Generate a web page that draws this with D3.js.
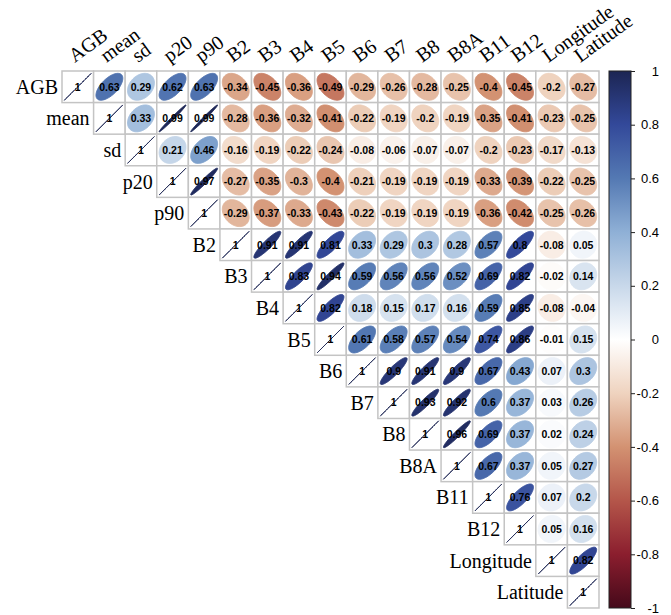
<!DOCTYPE html>
<html>
<head>
<meta charset="utf-8">
<script src="https://cdn.jsdelivr.net/npm/d3@7"></script>
<style>
body { margin: 0; background: #fff; }
</style>
</head>
<body>
<script>
var vars = ["AGB", "mean", "sd", "p20", "p90", "B2", "B3", "B4", "B5", "B6", "B7", "B8", "B8A", "B11", "B12", "Longitude", "Latitude"];

// upper triangle: each row lists the values right of the diagonal
var rowAGB = [0.63, 0.29, 0.62, 0.63, -0.34, -0.45, -0.36, -0.49, -0.29, -0.26, -0.28, -0.25, -0.4, -0.45, -0.2, -0.27];
var rowMean = [0.33, 0.99, 0.99, -0.28, -0.36, -0.32, -0.41, -0.22, -0.19, -0.2, -0.19, -0.35, -0.41, -0.23, -0.25];
var rowSd = [0.21, 0.46, -0.16, -0.19, -0.22, -0.24, -0.08, -0.06, -0.07, -0.07, -0.2, -0.23, -0.17, -0.13];
var rowP20 = [0.97, -0.27, -0.35, -0.3, -0.4, -0.21, -0.19, -0.19, -0.19, -0.33, -0.39, -0.22, -0.25];
var rowP90 = [-0.29, -0.37, -0.33, -0.43, -0.22, -0.19, -0.19, -0.19, -0.36, -0.42, -0.25, -0.26];
var rowB2 = [0.91, 0.91, 0.81, 0.33, 0.29, 0.3, 0.28, 0.57, 0.8, -0.08, 0.05];
var rowB3 = [0.83, 0.94, 0.59, 0.56, 0.56, 0.52, 0.69, 0.82, -0.02, 0.14];
var rowB4 = [0.82, 0.18, 0.15, 0.17, 0.16, 0.59, 0.85, -0.08, -0.04];
var rowB5 = [0.61, 0.58, 0.57, 0.54, 0.74, 0.86, -0.01, 0.15];
var rowB6 = [0.9, 0.91, 0.9, 0.67, 0.43, 0.07, 0.3];
var rowB7 = [0.93, 0.92, 0.6, 0.37, 0.03, 0.26];
var rowB8 = [0.96, 0.69, 0.37, 0.02, 0.24];
var rowB8A = [0.67, 0.37, 0.05, 0.27];
var rowB11 = [0.76, 0.07, 0.2];
var rowB12 = [0.05, 0.16];
var rowLongitude = [0.82];
var rowLatitude = [];

var upper = [rowAGB, rowMean, rowSd, rowP20, rowP90, rowB2, rowB3, rowB4, rowB5, rowB6, rowB7, rowB8, rowB8A, rowB11, rowB12, rowLongitude, rowLatitude];

var legendTicks = [1, 0.8, 0.6, 0.4, 0.2, 0, -0.2, -0.4, -0.6, -0.8, -1];
var paletteValues = [-1, -0.8, -0.6, -0.4, -0.2, 0, 0.2, 0.4, 0.6, 0.8, 1];
var paletteColors = ["#45091a", "#8b1e2e", "#b4564a", "#d39272", "#efd3bf", "#ffffff", "#c8d8ea", "#8fb0d6", "#5479b3", "#33499a", "#1c2553"];

var svgWidth = 671;
var svgHeight = 615;
var gridLeft = 62, gridTop = 71, gridSize = 537;
var serif = "'Liberation Serif', 'Times New Roman', serif";
var sans = "'Liberation Sans', Arial, sans-serif";

var svg = d3.select("body").append("svg")
    .attr("width", svgWidth)
    .attr("height", svgHeight);

var x = d3.scaleBand().domain(vars).range([gridLeft, gridLeft + gridSize]);
var y = d3.scaleBand().domain(vars).range([gridTop, gridTop + gridSize]);
var color = d3.scaleLinear().domain(paletteValues).range(paletteColors);
var cell = x.bandwidth();

var cells = [];
vars.forEach(function (rv, i) {
    vars.forEach(function (cv, j) {
        if (j < i) return;
        cells.push({ row: rv, col: cv, value: i === j ? 1 : upper[i][j - i - 1] });
    });
});

// corrplot style ellipse outline
function ellipse(rho) {
    var a = Math.acos(rho) / 2;
    var r = 0.5 * 0.85 * cell;
    return d3.range(100).map(function (i) {
        var k = 2 * Math.PI * i / 99;
        return [Math.cos(k + a) * r, -Math.cos(k - a) * r];
    });
}
var line = d3.line();

var g = svg.append("g");

var cellG = g.selectAll(".cell")
    .data(cells)
    .enter()
    .append("g")
    .attr("class", "cell")
    .attr("transform", d => `translate(${x(d.col) + cell / 2}, ${y(d.row) + cell / 2})`);

cellG.append("rect")
    .attr("x", -cell / 2)
    .attr("y", -cell / 2)
    .attr("width", cell)
    .attr("height", cell)
    .attr("fill", "#fff")
    .attr("stroke", "#c4c4c4")
    .attr("stroke-width", 1.5);

cellG.append("path")
    .attr("d", d => line(ellipse(d.value)) + "Z")
    .attr("fill", d => color(d.value))
    .attr("stroke", d => color(d.value))
    .attr("stroke-width", 1);

cellG.append("text")
    .attr("text-anchor", "middle")
    .attr("dy", "0.36em")
    .style("font-family", sans)
    .style("font-weight", "bold")
    .style("font-size", "10.5px")
    .attr("fill", "#000")
    .text(d => String(d.value));

// row labels
svg.selectAll(".rowLabel")
    .data(vars)
    .enter()
    .append("text")
    .attr("class", "rowLabel")
    .attr("x", d => x(d) - 4)
    .attr("y", d => y(d) + cell / 2 + 7)
    .attr("text-anchor", "end")
    .style("font-family", serif)
    .style("font-size", "20px")
    .text(d => d);

// column labels
svg.selectAll(".colLabel")
    .data(vars)
    .enter()
    .append("text")
    .attr("class", "colLabel")
    .attr("transform", d => `translate(${x(d) + cell / 2 - 3}, ${gridTop - 8}) rotate(-36)`)
    .style("font-family", serif)
    .style("font-size", "20px")
    .text(d => d);

// colour legend
var legX = 609, legW = 22;
var ly = d3.scaleLinear().domain([-1, 1]).range([gridTop + gridSize, gridTop]);

var grad = svg.append("defs").append("linearGradient")
    .attr("id", "legGrad")
    .attr("x1", 0).attr("y1", 1)
    .attr("x2", 0).attr("y2", 0);
grad.selectAll("stop")
    .data(paletteValues)
    .enter()
    .append("stop")
    .attr("offset", d => (d + 1) / 2)
    .attr("stop-color", d => color(d));

svg.append("rect")
    .attr("x", legX)
    .attr("y", ly(1))
    .attr("width", legW)
    .attr("height", ly(-1) - ly(1))
    .attr("fill", "url(#legGrad)")
    .attr("stroke", "#222")
    .attr("stroke-width", 1);

var legAxis = svg.append("g")
    .attr("transform", `translate(${legX + legW}, 0)`)
    .call(d3.axisRight(ly).tickValues(legendTicks).tickSize(4).tickFormat(d => String(d)));
legAxis.select(".domain").remove();
legAxis.selectAll("line").attr("stroke", "#222");
legAxis.selectAll("text")
    .attr("x", 28)
    .attr("text-anchor", "end")
    .style("font-family", sans)
    .style("font-size", "13px")
    .attr("fill", "#000");
</script>
</body>
</html>
